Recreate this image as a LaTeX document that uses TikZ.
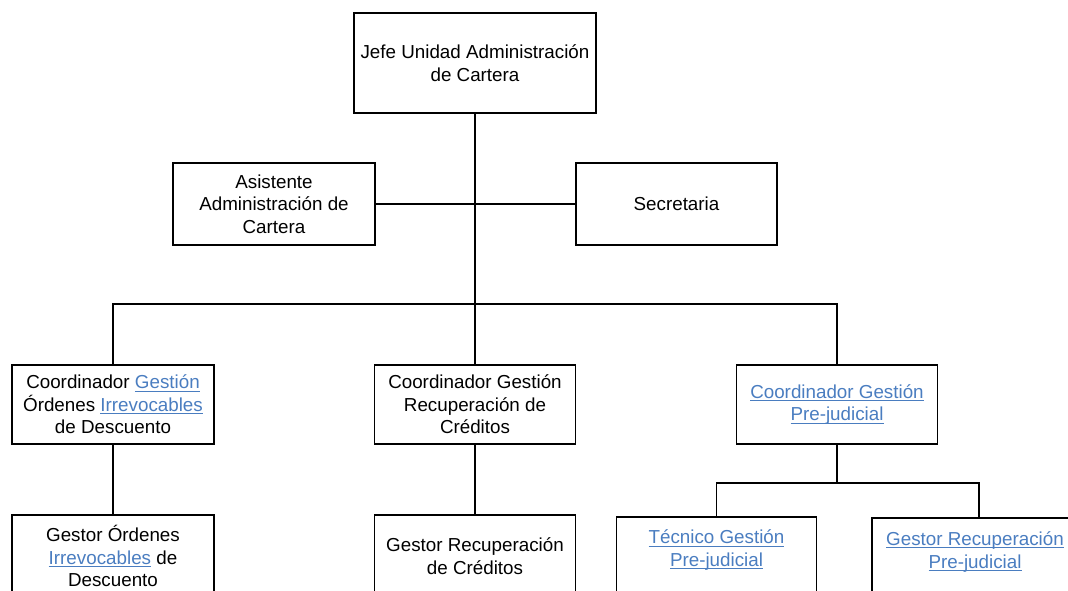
\documentclass[tikz,border=0pt]{standalone}
\usepackage{fontspec}
\setmainfont{Liberation Sans}
\definecolor{linkblue}{HTML}{4A7DC0}
% blue, underlined hyperlink-style text
\newcommand\lnk[1]{{\color{linkblue}\setbox0\hbox{#1}\rlap{\rule[-2.2pt]{\wd0}{0.7pt}}\box0}}

\begin{document}
\begin{tikzpicture}[x=0.75pt,y=-0.75pt,
  box/.style={draw, line width=1.3pt, rectangle, align=center, inner sep=0pt,
              font=\fontsize{14.1pt}{17pt}\selectfont},
  txt/.style={align=center, inner sep=0pt, font=\fontsize{14.1pt}{17pt}\selectfont},
  conn/.style={line width=1.3pt}]
\path[use as bounding box] (0,0) rectangle (1068,591);
\clip (0,0) rectangle (1068,591);

% top level
\node[box, minimum width=242*0.75pt, minimum height=100*0.75pt] (jefe) at (475,63)
  {Jefe Unidad Administración\\de Cartera};
\node[box, minimum width=202*0.75pt, minimum height=82*0.75pt] (asis) at (274,204)
  {Asistente\\Administración de\\Cartera};
\node[box, minimum width=201*0.75pt, minimum height=82*0.75pt] (secr) at (676.5,204)
  {Secretaria};

% coordinators
\node[box, minimum width=202*0.75pt, minimum height=79*0.75pt] (c1) at (113,404.5)
  {Coordinador \lnk{Gestión}\\Órdenes \lnk{Irrevocables}\\de Descuento};
\node[box, minimum width=201*0.75pt, minimum height=79*0.75pt] (c2) at (475,404.5)
  {Coordinador Gestión\\Recuperación de\\Créditos};
\node[box, minimum width=201*0.75pt, minimum height=79*0.75pt] (c3) at (837,404.5)
  {\lnk{Coordinador Gestión}\\\lnk{Pre-judicial}};

% staff
\node[box, minimum width=202*0.75pt, minimum height=82*0.75pt] (g1) at (113,556)
  {Gestor Órdenes\\\lnk{Irrevocables} de\\Descuento};
\node[box, minimum width=201*0.75pt, minimum height=82*0.75pt] (g2) at (475,556)
  {Gestor Recuperación\\de Créditos};
\node[box, minimum width=200*0.75pt, minimum height=84*0.75pt] (tec) at (716.5,559) {};
\node[box, minimum width=214*0.75pt, minimum height=84*0.75pt] (grp) at (979,560) {};
\node[txt] (tectxt) at ([yshift=-25.5pt]tec.north)
  {\lnk{Técnico Gestión}\\\lnk{Pre-judicial}};
\node[txt] (grptxt) at ([xshift=-3pt,yshift=-26pt]grp.north)
  {\lnk{Gestor Recuperación}\\\lnk{Pre-judicial}};

% connectors
\coordinate (bus) at (475,304);
\coordinate (bus3) at (837,483);
\draw[conn] (jefe.south) -- (c2.north);
\draw[conn] (asis.east) -- (secr.west);
\draw[conn] (c1.north) |- (bus) -| (c3.north);
\draw[conn] (c1.south) -- (g1.north);
\draw[conn] (c2.south) -- (g2.north);
\draw[conn] (c3.south) -- (bus3);
\draw[conn] (tec.north) |- (bus3) -| (grp.north);
\end{tikzpicture}
\end{document}
